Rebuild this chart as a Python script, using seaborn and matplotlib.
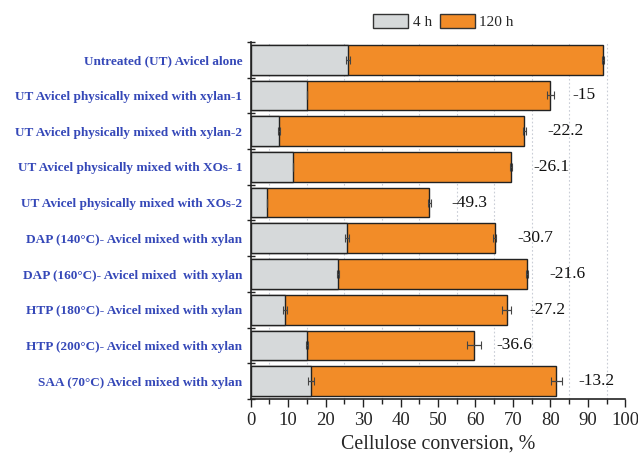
import numpy as np
import pandas as pd
import matplotlib
matplotlib.use("Agg")
import matplotlib.pyplot as plt
from matplotlib.patches import Patch
from matplotlib.ticker import MultipleLocator
import seaborn as sns

categories = [
    "Untreated (UT) Avicel alone",
    "UT Avicel physically mixed with xylan-1",
    "UT Avicel physically mixed with xylan-2",
    "UT Avicel physically mixed with XOs- 1",
    "UT Avicel physically mixed with XOs-2",
    "DAP (140\u00b0C)- Avicel mixed with xylan",
    "DAP (160\u00b0C)- Avicel mixed  with xylan",
    "HTP (180\u00b0C)- Avicel mixed with xylan",
    "HTP (200\u00b0C)- Avicel mixed with xylan",
    "SAA (70\u00b0C) Avicel mixed with xylan",
]
conv_4h = [26.0, 15.0, 7.5, 11.2, 4.3, 25.7, 23.3, 9.1, 15.0, 16.0]
conv_120h = [94.0, 80.0, 73.1, 69.5, 47.7, 65.1, 73.7, 68.4, 59.6, 81.6]
err_4h = [0.5, 0.0, 0.2, 0.0, 0.0, 0.6, 0.2, 0.6, 0.3, 0.8]
err_120h = [0.3, 1.0, 0.5, 0.3, 0.5, 0.5, 0.3, 1.2, 1.8, 1.4]
change_labels = ["", "-15", "-22.2", "-26.1", "-49.3", "-30.7", "-21.6", "-27.2", "-36.6", "-13.2"]
legend_labels = ["4 h", "120 h"]

gray = "#d6d9da"
orange = "#f28c28"
label_blue = "#3548b8"

sns.set_style("ticks")
plt.rcParams["font.family"] = ["Liberation Serif", "DejaVu Serif"]

df = pd.DataFrame({"cat": categories, "h4": conv_4h, "h120": conv_120h})

fig = plt.figure(figsize=(6.38, 4.55), dpi=100)
ax = fig.add_axes([0.393, 0.123, 0.587, 0.785])

# grid at minor positions
for gx in np.arange(5, 100, 10):
    ax.axvline(gx, color="#c9cdd6", lw=0.8, ls=(0, (1.5, 2)), zorder=0)

sns.barplot(data=df, y="cat", x="h120", orient="h", color=orange, width=0.83,
            edgecolor="#222222", linewidth=1.0, ax=ax, zorder=2, saturation=1)
sns.barplot(data=df, y="cat", x="h4", orient="h", color=gray, width=0.83,
            edgecolor="#222222", linewidth=1.0, ax=ax, zorder=3, saturation=1)

pos = np.arange(len(categories))
ax.errorbar(conv_120h, pos, xerr=err_120h, fmt="none", ecolor="#444444",
            elinewidth=0.9, capsize=3, capthick=0.8, zorder=4)
ax.errorbar(conv_4h, pos, xerr=err_4h, fmt="none", ecolor="#444444",
            elinewidth=0.9, capsize=3, capthick=0.8, zorder=4)

for i, (v, e, t) in enumerate(zip(conv_120h, err_120h, change_labels)):
    if t:
        ax.text(v + 6.0, i, t, ha="left", va="center", fontsize=12.5, color="#111111")

ax.set_xlim(0, 100)
ax.set_ylim(len(categories) - 0.5, -0.5)
ax.xaxis.set_major_locator(MultipleLocator(10))
ax.xaxis.set_minor_locator(MultipleLocator(5))
ax.tick_params(axis="x", which="major", length=6, width=1.0, direction="out",
               labelsize=13.5, pad=3, color="#222222")
ax.tick_params(axis="x", which="minor", length=3.5, width=1.0, direction="out", color="#222222")

ax.set_yticks(pos)
ax.set_yticklabels(categories, fontsize=9.5, fontweight="bold", color=label_blue)
ax.set_yticks(np.arange(-0.5, len(categories), 1), minor=True)
ax.tick_params(axis="y", which="major", length=0, pad=6)
ax.tick_params(axis="y", which="minor", length=6, width=1.0, direction="inout", color="#222222")

ax.set_ylabel("")
ax.set_xlabel("Cellulose conversion, %", fontsize=14.3, labelpad=4)
for side in ["top", "right"]:
    ax.spines[side].set_visible(False)
for side in ["left", "bottom"]:
    ax.spines[side].set_linewidth(1.2)
    ax.spines[side].set_color("#222222")

handles = [Patch(facecolor=gray, edgecolor="#333333", lw=1.0),
           Patch(facecolor=orange, edgecolor="#333333", lw=1.0)]
fig.legend(handles, legend_labels, loc="center", bbox_to_anchor=(0.695, 0.953),
           ncol=2, frameon=False, fontsize=11, handlelength=2.3, handleheight=1.1,
           handletextpad=0.3, columnspacing=0.5)

fig.savefig("out.png", dpi=100)
